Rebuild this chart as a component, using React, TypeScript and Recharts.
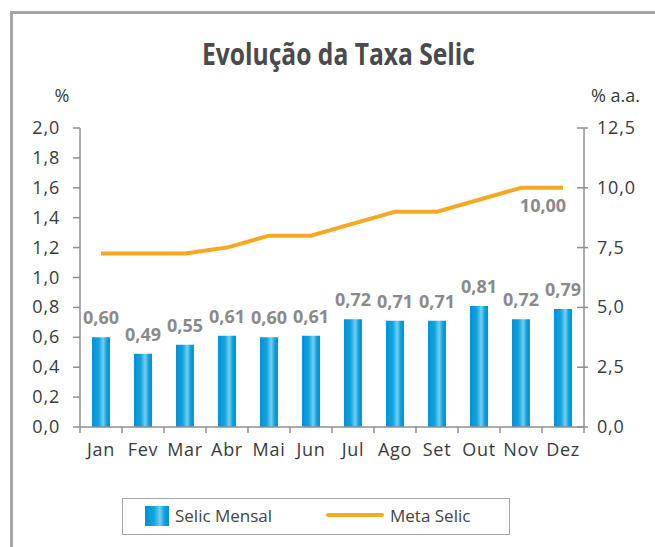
import { ComposedChart, Bar, Line, XAxis, YAxis, LabelList, Legend } from 'recharts';

const MONTHS = ['Jan', 'Fev', 'Mar', 'Abr', 'Mai', 'Jun', 'Jul', 'Ago', 'Set', 'Out', 'Nov', 'Dez'];
const SELIC_MENSAL = [0.6, 0.49, 0.55, 0.61, 0.6, 0.61, 0.72, 0.71, 0.71, 0.81, 0.72, 0.79];
const META_SELIC = [7.25, 7.25, 7.25, 7.5, 8, 8, 8.5, 9, 9, 9.5, 10, 10];
const LEFT_TICKS = [0, 0.2, 0.4, 0.6, 0.8, 1.0, 1.2, 1.4, 1.6, 1.8, 2.0];
const RIGHT_TICKS = [0, 2.5, 5, 7.5, 10, 12.5];

const data = MONTHS.map((month, i) => ({
  month,
  mensal: SELIC_MENSAL[i],
  meta: META_SELIC[i],
}));

const FONT = "'Open Sans', 'Noto Sans', sans-serif";
const AXIS_GRAY = '#8f8f8f';
const TEXT = '#3a3a3a';
const LABEL_GRAY = '#8a8a8a';
const ORANGE = '#f7a823';
const PLOT_W = 504;
const BAND = PLOT_W / MONTHS.length;

const fmt = (digits: number) => (v: number) => v.toFixed(digits).replace('.', ',');

function MonthTick(props: any) {
  const { x, y, payload, index } = props;
  const last = index === MONTHS.length - 1;
  return (
    <g>
      <line x1={x - BAND / 2} x2={x - BAND / 2} y1={y} y2={y + 6} stroke={AXIS_GRAY} strokeWidth={1.5} />
      {last && (
        <line x1={x + BAND / 2} x2={x + BAND / 2} y1={y} y2={y + 6} stroke={AXIS_GRAY} strokeWidth={1.5} />
      )}
      <text x={x} y={y + 29} textAnchor="middle" fill={TEXT} fontSize={18} fontFamily={FONT} letterSpacing={0.7}>
        {payload.value}
      </text>
    </g>
  );
}

function LeftTick(props: any) {
  const { x, y, payload } = props;
  return (
    <g>
      <line x1={x - 7} x2={x} y1={y} y2={y} stroke={AXIS_GRAY} strokeWidth={1.5} />
      <text x={x - 20} y={y + 6} textAnchor="end" fill={TEXT} fontSize={18} fontFamily={FONT} letterSpacing={0.8}>
        {fmt(1)(payload.value)}
      </text>
    </g>
  );
}

function RightTick(props: any) {
  const { x, y, payload } = props;
  return (
    <g>
      <line x1={x - 7} x2={x + 4} y1={y} y2={y} stroke={AXIS_GRAY} strokeWidth={1.5} />
      <text x={x + 13} y={y + 6} textAnchor="start" fill={TEXT} fontSize={18} fontFamily={FONT} letterSpacing={0.8}>
        {fmt(1)(payload.value)}
      </text>
    </g>
  );
}

function BarValueLabel(props: any) {
  const x = props.x ?? props.viewBox?.x;
  const y = props.y ?? props.viewBox?.y;
  const w = props.width ?? props.viewBox?.width ?? 0;
  return (
    <text x={x + w / 2} y={y - 13} textAnchor="middle" fill={LABEL_GRAY} fontSize={18} fontWeight={700} fontFamily={FONT}>
      {fmt(2)(props.value)}
    </text>
  );
}

function MetaLabel(props: any) {
  if (props.index !== META_SELIC.length - 1) return null;
  const x = props.x ?? props.viewBox?.x;
  const y = props.y ?? props.viewBox?.y;
  return (
    <text x={x - 20} y={y + 24} textAnchor="middle" fill={LABEL_GRAY} fontSize={18} fontWeight={700} fontFamily={FONT}>
      {fmt(2)(props.value)}
    </text>
  );
}

function BarGradient({ id }: { id: string }) {
  return (
    <linearGradient id={id} x1="0" y1="0" x2="1" y2="0">
      <stop offset="0%" stopColor="#0092d4" />
      <stop offset="38%" stopColor="#14a3de" />
      <stop offset="62%" stopColor="#72d0f3" />
      <stop offset="82%" stopColor="#109fdb" />
      <stop offset="100%" stopColor="#0092d4" />
    </linearGradient>
  );
}

function LegendBox() {
  return (
    <div
      style={{
        width: 388,
        height: 37,
        boxSizing: 'border-box',
        border: '1.5px solid #a3a3a3',
        background: '#fff',
        position: 'relative',
        fontFamily: FONT,
        fontSize: 17,
        color: '#444',
      }}
    >
      <svg width={24} height={20} style={{ position: 'absolute', left: 22, top: 7 }}>
        <defs>
          <BarGradient id="legendGrad" />
        </defs>
        <rect x={0} y={0} width={24} height={20} fill="url(#legendGrad)" />
      </svg>
      <span style={{ position: 'absolute', left: 52, top: 7, lineHeight: '20px' }}>Selic Mensal</span>
      <svg width={58} height={6} style={{ position: 'absolute', left: 203, top: 13 }}>
        <line x1={2} x2={56} y1={3} y2={3} stroke={ORANGE} strokeWidth={4} strokeLinecap="round" />
      </svg>
      <span style={{ position: 'absolute', left: 267, top: 7, lineHeight: '20px' }}>Meta Selic</span>
    </div>
  );
}

export default function App() {
  return (
    <div
      style={{
        position: 'absolute',
        left: 0,
        top: 0,
        width: 655,
        height: 547,
        overflow: 'hidden',
        background: '#fff',
        fontFamily: FONT,
      }}
    >
      <div
        style={{
          position: 'absolute',
          left: 10,
          top: 11,
          width: 645,
          height: 536,
          boxSizing: 'border-box',
          borderLeft: '3px solid #a6a6a6',
          borderTop: '3px solid #a6a6a6',
        }}
      />
      <svg width={655} height={110} style={{ position: 'absolute', left: 0, top: 0 }}>
        <text
          x={338.5}
          y={65}
          textAnchor="middle"
          fontSize={30}
          fontWeight={700}
          fill="#4a4a4a"
          fontFamily={FONT}
          textLength={273}
          lengthAdjust="spacingAndGlyphs"
        >
          Evolução da Taxa Selic
        </text>
        <text x={62} y={102} textAnchor="middle" fontSize={18} fill={TEXT} fontFamily={FONT}>
          %
        </text>
        <text x={591} y={102} textAnchor="start" fontSize={18} fill={TEXT} fontFamily={FONT}>
          % a.a.
        </text>
      </svg>
      <div style={{ position: 'absolute', left: 0, top: 0 }}>
        <ComposedChart
          width={655}
          height={547}
          data={data}
          margin={{ top: 128, right: 11, bottom: 90, left: 20 }}
          barCategoryGap={0}
        >
          <defs>
            <BarGradient id="barGrad" />
          </defs>
          <XAxis
            dataKey="month"
            tickLine={false}
            tickSize={0}
            tickMargin={0}
            height={30}
            axisLine={{ stroke: AXIS_GRAY, strokeWidth: 1.5 }}
            tick={<MonthTick />}
            interval={0}
          />
          <YAxis
            yAxisId="left"
            domain={[0, 2]}
            ticks={LEFT_TICKS}
            width={60}
            tickLine={false}
            tickSize={0}
            tickMargin={0}
            axisLine={{ stroke: AXIS_GRAY, strokeWidth: 1.5 }}
            tick={<LeftTick />}
            interval={0}
          />
          <YAxis
            yAxisId="right"
            orientation="right"
            domain={[0, 12.5]}
            ticks={RIGHT_TICKS}
            width={60}
            tickLine={false}
            tickSize={0}
            tickMargin={0}
            axisLine={{ stroke: AXIS_GRAY, strokeWidth: 1.5 }}
            tick={<RightTick />}
            interval={0}
          />
          <Bar yAxisId="left" dataKey="mensal" name="Selic Mensal" barSize={18} fill="url(#barGrad)" isAnimationActive={false}>
            <LabelList dataKey="mensal" content={<BarValueLabel />} />
          </Bar>
          <Line
            yAxisId="right"
            type="linear"
            dataKey="meta"
            name="Meta Selic"
            stroke={ORANGE}
            strokeWidth={4}
            dot={false}
            activeDot={false}
            isAnimationActive={false}
          >
            <LabelList dataKey="meta" content={<MetaLabel />} />
          </Line>
          <Legend
            layout="horizontal"
            verticalAlign="middle"
            content={() => <LegendBox />}
            wrapperStyle={{ left: 122, top: 498, width: 388, height: 37 }}
          />
        </ComposedChart>
      </div>
    </div>
  );
}
